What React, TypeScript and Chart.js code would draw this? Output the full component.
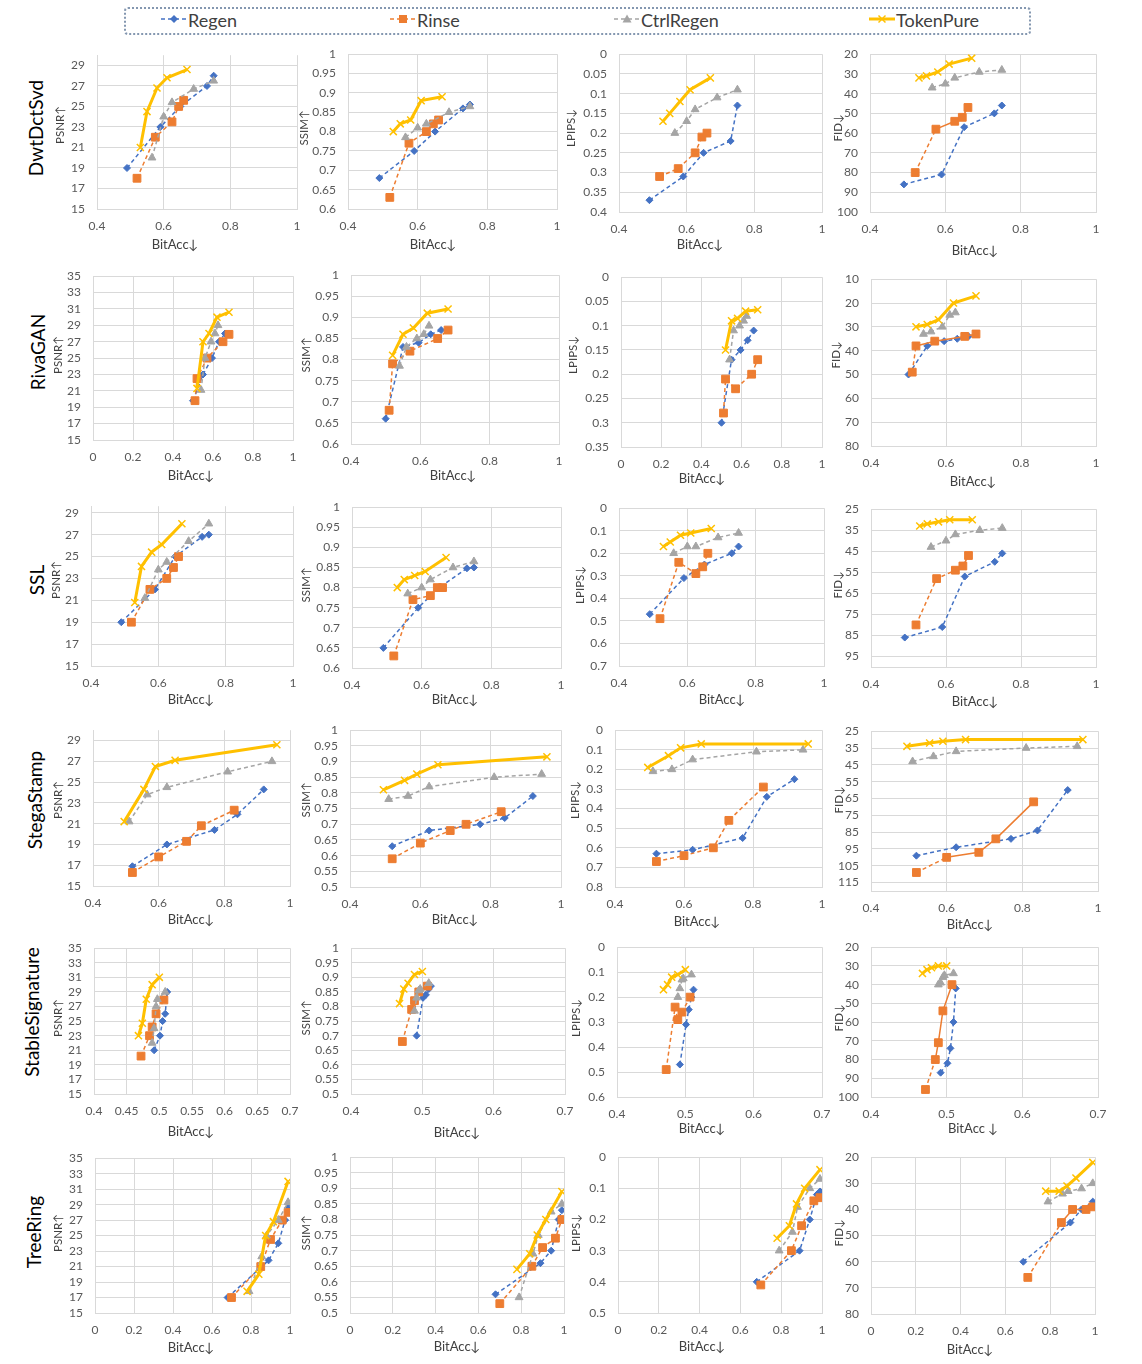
import React, { useEffect, useRef } from "react";
import { Chart, registerables } from "chart.js";
Chart.register(...registerables);

const FONT = "Lato, 'Liberation Sans', sans-serif";
const METHODS = ["Regen", "Rinse", "CtrlRegen", "TokenPure"];
const COLORS = ["#4472C4", "#ED7D31", "#A5A5A5", "#FFC000"];
const POINT_STYLES = ["rectRot", "rect", "triangle", "crossRot"];
const POINT_RADII = [3.5, 5.5, 4.5, 5];
const METRIC_TITLES = ["PSNR↑", "SSIM↑", "LPIPS↓", "FID↓"];
const ROW_LABELS = ["DwtDctSvd", "RivaGAN", "SSL", "StegaStamp", "StableSignature", "TreeRing"];

// ---- DwtDctSvd ----  rows of each array: Regen, Rinse, CtrlRegen, TokenPure
const dwtBitAcc = [
  [0.49, 0.59, 0.65, 0.73, 0.75],
  [0.52, 0.575, 0.625, 0.645, 0.66],
  [0.565, 0.6, 0.625, 0.69, 0.75],
  [0.53, 0.55, 0.58, 0.61, 0.67],
];
const dwtPSNR = [[19, 23, 25, 27, 28], [18, 22, 23.5, 25, 25.6], [20, 24, 25.4, 26.7, 27.5], [21, 24.5, 26.8, 27.8, 28.6]];
const dwtSSIM = [[0.68, 0.75, 0.8, 0.86, 0.87], [0.63, 0.77, 0.8, 0.82, 0.83], [0.785, 0.81, 0.82, 0.85, 0.865], [0.8, 0.82, 0.83, 0.88, 0.89]];
const dwtLPIPS = [[0.37, 0.31, 0.25, 0.22, 0.13], [0.31, 0.29, 0.25, 0.21, 0.2], [0.2, 0.17, 0.14, 0.11, 0.09], [0.17, 0.15, 0.12, 0.09, 0.06]];
const dwtFID = [[86, 81, 57, 50, 46], [80, 58, 54, 52, 47], [37, 35, 32, 29, 28], [32, 31, 29, 25, 22]];

// ---- RivaGAN ----
const rivaBitAcc = [
  [0.5, 0.55, 0.595, 0.63, 0.66],
  [0.51, 0.52, 0.57, 0.65, 0.68],
  [0.54, 0.56, 0.59, 0.61, 0.625],
  [0.52, 0.55, 0.58, 0.62, 0.68],
];
const rivaPSNR = [[19.8, 23, 25, 27, 28], [19.8, 22.5, 25, 27, 27.9], [21.1, 25, 27, 28, 29], [21.3, 27, 28, 30, 30.6]];
const rivaSSIM = [[0.66, 0.83, 0.84, 0.86, 0.87], [0.68, 0.79, 0.82, 0.85, 0.87], [0.785, 0.83, 0.85, 0.86, 0.88], [0.81, 0.86, 0.875, 0.91, 0.92]];
const rivaLPIPS = [[0.3, 0.17, 0.15, 0.13, 0.11], [0.28, 0.21, 0.23, 0.2, 0.17], [0.17, 0.11, 0.1, 0.09, 0.08], [0.15, 0.09, 0.085, 0.07, 0.067]];
const rivaFID = [[50, 38, 36, 35, 34], [49, 38, 36, 34, 33], [33, 32, 30, 25, 24], [30, 29, 27, 20, 17]];

// ---- SSL ----
const sslBitAcc = [
  [0.49, 0.59, 0.65, 0.73, 0.75],
  [0.52, 0.575, 0.625, 0.645, 0.66],
  [0.56, 0.6, 0.625, 0.69, 0.75],
  [0.53, 0.55, 0.58, 0.61, 0.67],
];
const sslPSNR = [[19, 22, 25, 26.8, 27], [19, 22, 23, 24, 25], [21.2, 23.8, 24.5, 26.4, 28], [20.8, 24.1, 25.4, 26.1, 28]];
const sslSSIM = [[0.65, 0.75, 0.8, 0.848, 0.85], [0.63, 0.77, 0.78, 0.8, 0.8], [0.785, 0.8, 0.82, 0.85, 0.865], [0.8, 0.82, 0.83, 0.84, 0.875]];
const sslLPIPS = [[0.47, 0.31, 0.25, 0.2, 0.17], [0.49, 0.24, 0.29, 0.26, 0.2], [0.2, 0.17, 0.17, 0.13, 0.11], [0.17, 0.15, 0.12, 0.11, 0.09]];
const sslFID = [[86, 81, 57, 50, 46], [80, 58, 54, 52, 47], [43, 40, 37, 35, 34], [33, 32, 31, 30, 30]];

// ---- StegaStamp ----
const stegaBitAcc = [
  [0.52, 0.625, 0.77, 0.84, 0.92],
  [0.52, 0.6, 0.685, 0.73, 0.83],
  [0.51, 0.565, 0.625, 0.81, 0.945],
  [0.495, 0.555, 0.59, 0.65, 0.96],
];
const stegaPSNR = [[16.9, 19, 20.4, 21.9, 24.3], [16.3, 17.8, 19.3, 20.8, 22.3], [21.2, 23.8, 24.5, 26, 27], [21.2, 24.3, 26.5, 27.1, 28.6]];
const stegaSSIM = [[0.63, 0.68, 0.7, 0.72, 0.79], [0.59, 0.64, 0.68, 0.7, 0.74], [0.78, 0.79, 0.82, 0.85, 0.86], [0.81, 0.84, 0.86, 0.89, 0.915]];
const stegaLPIPS = [[0.63, 0.61, 0.55, 0.34, 0.25], [0.67, 0.64, 0.6, 0.46, 0.29], [0.21, 0.2, 0.15, 0.11, 0.1], [0.19, 0.13, 0.09, 0.07, 0.07]];
const stegaFID = [[99, 94, 89, 84, 60], [109, 100, 97, 89, 67], [43, 40, 37, 35, 34], [34, 32, 31, 30, 30]];

// ---- StableSignature ----
const sigBitAcc = [
  [0.492, 0.501, 0.505, 0.509, 0.512],
  [0.472, 0.485, 0.489, 0.495, 0.507],
  [0.489, 0.492, 0.495, 0.497, 0.509],
  [0.468, 0.474, 0.48, 0.489, 0.5],
];
const sigPSNR = [[21, 23, 25, 26, 29], [20.2, 23, 24.2, 26, 27.9], [22, 24, 27, 28, 29], [23, 24.7, 28, 30, 31]];
const sigSSIM = [[0.7, 0.83, 0.84, 0.86, 0.87], [0.68, 0.79, 0.82, 0.85, 0.87], [0.785, 0.83, 0.855, 0.86, 0.88], [0.81, 0.86, 0.88, 0.91, 0.92]];
const sigLPIPS = [[0.47, 0.31, 0.25, 0.2, 0.17], [0.49, 0.24, 0.29, 0.26, 0.2], [0.2, 0.165, 0.13, 0.125, 0.11], [0.17, 0.15, 0.12, 0.11, 0.09]];
const sigFID = [[87, 82, 74, 60, 42], [96, 80, 71, 54, 40], [40, 39, 36, 35, 34], [34, 32, 31, 30, 30]];

// ---- TreeRing ----
const treeBitAcc = [
  [0.68, 0.89, 0.94, 0.975, 0.99],
  [0.7, 0.85, 0.9, 0.96, 0.99],
  [0.79, 0.855, 0.88, 0.94, 0.99],
  [0.78, 0.84, 0.875, 0.915, 0.99],
];
const treePSNR = [[17, 21.8, 24, 27, 28.6], [17, 21, 24.5, 27, 28], [17.8, 22.3, 25, 27, 29.3], [17.8, 20, 25, 26.8, 32]];
const treeSSIM = [[0.56, 0.66, 0.7, 0.8, 0.83], [0.53, 0.65, 0.71, 0.74, 0.8], [0.55, 0.69, 0.75, 0.825, 0.85], [0.64, 0.69, 0.75, 0.8, 0.89]];
const treeLPIPS = [[0.4, 0.3, 0.2, 0.12, 0.11], [0.41, 0.3, 0.22, 0.14, 0.13], [0.3, 0.24, 0.16, 0.1, 0.07], [0.26, 0.22, 0.15, 0.1, 0.04]];
const treeFID = [[60, 45, 40, 39, 37], [66, 45, 40, 40, 39], [37, 34, 33, 32, 30], [33, 33, 31, 28, 22]];

// ---- tick labels ----
const TICKS_PSNR_29 = [15, 17, 19, 21, 23, 25, 27, 29];
const TICKS_PSNR_35 = [15, 17, 19, 21, 23, 25, 27, 29, 31, 33, 35];
const TICKS_SSIM_06 = [0.6, 0.65, 0.7, 0.75, 0.8, 0.85, 0.9, 0.95, 1];
const TICKS_SSIM_05 = [0.5, 0.55, 0.6, 0.65, 0.7, 0.75, 0.8, 0.85, 0.9, 0.95, 1];
const TICKS_LPIPS_04 = [0, 0.05, 0.1, 0.15, 0.2, 0.25, 0.3, 0.35, 0.4];
const TICKS_LPIPS_035 = [0, 0.05, 0.1, 0.15, 0.2, 0.25, 0.3, 0.35];
const TICKS_LPIPS_07 = [0, 0.1, 0.2, 0.3, 0.4, 0.5, 0.6, 0.7];
const TICKS_LPIPS_08 = [0, 0.1, 0.2, 0.3, 0.4, 0.5, 0.6, 0.7, 0.8];
const TICKS_LPIPS_06 = [0, 0.1, 0.2, 0.3, 0.4, 0.5, 0.6];
const TICKS_LPIPS_05 = [0, 0.1, 0.2, 0.3, 0.4, 0.5];
const TICKS_FID_20_100 = [20, 30, 40, 50, 60, 70, 80, 90, 100];
const TICKS_FID_10_80 = [10, 20, 30, 40, 50, 60, 70, 80];
const TICKS_FID_25_95 = [25, 35, 45, 55, 65, 75, 85, 95];
const TICKS_FID_25_115 = [25, 35, 45, 55, 65, 75, 85, 95, 105, 115];
const TICKS_FID_20_80 = [20, 30, 40, 50, 60, 70, 80];
const TICKS_BIT_04_1 = [0.4, 0.6, 0.8, 1];
const TICKS_BIT_0_1 = [0, 0.2, 0.4, 0.6, 0.8, 1];
const TICKS_BIT_04_07_FINE = [0.4, 0.45, 0.5, 0.55, 0.6, 0.65, 0.7];
const TICKS_BIT_04_07 = [0.4, 0.5, 0.6, 0.7];

type PanelLayout = {
  l: number; r: number; t: number; b: number;
  xMin: number; xMax: number; xTicks: number[];
  yMin: number; yMax: number; yTicks: number[];
  yT: [number, number]; xT: [number, number];
  xTitle?: string; solidFrom?: number;
};

type RowDef = { label: string; labelPos: [number, number]; bit: number[][]; metrics: number[][][]; panels: PanelLayout[] };

const ROWS: RowDef[] = [
  {
    label: ROW_LABELS[0], labelPos: [36, 128], bit: dwtBitAcc, metrics: [dwtPSNR, dwtSSIM, dwtLPIPS, dwtFID],
    panels: [
      { l: 96.5, r: 296.8, t: 48.3, b: 209, xMin: 0.4, xMax: 1, xTicks: TICKS_BIT_04_1, yMin: 15, yMax: 30, yTicks: TICKS_PSNR_29, yT: [60, 125], xT: [175, 245] },
      { l: 347.8, r: 557.2, t: 47.3, b: 209.3, xMin: 0.4, xMax: 1, xTicks: TICKS_BIT_04_1, yMin: 0.6, yMax: 1, yTicks: TICKS_SSIM_06, yT: [304, 128], xT: [433, 245] },
      { l: 619.4, r: 821.5, t: 47.3, b: 211.7, xMin: 0.4, xMax: 1, xTicks: TICKS_BIT_04_1, yMin: 0, yMax: 0.4, yTicks: TICKS_LPIPS_04, yT: [571, 128], xT: [700, 245] },
      { l: 870.3, r: 1096.1, t: 46.7, b: 211.7, xMin: 0.4, xMax: 1, xTicks: TICKS_BIT_04_1, yMin: 20, yMax: 100, yTicks: TICKS_FID_20_100, yT: [838, 128], xT: [975, 251], solidFrom: 1 },
    ],
  },
  {
    label: ROW_LABELS[1], labelPos: [38, 352], bit: rivaBitAcc, metrics: [rivaPSNR, rivaSSIM, rivaLPIPS, rivaFID],
    panels: [
      { l: 92.9, r: 293.2, t: 268.7, b: 440.3, xMin: 0, xMax: 1, xTicks: TICKS_BIT_0_1, yMin: 15, yMax: 35, yTicks: TICKS_PSNR_35, yT: [58, 355], xT: [191, 476] },
      { l: 350.7, r: 559, t: 268, b: 443.7, xMin: 0.4, xMax: 1, xTicks: TICKS_BIT_04_1, yMin: 0.6, yMax: 1, yTicks: TICKS_SSIM_06, yT: [306, 355], xT: [453, 476] },
      { l: 620.9, r: 822.3, t: 269.7, b: 447, xMin: 0, xMax: 1, xTicks: TICKS_BIT_0_1, yMin: 0, yMax: 0.35, yTicks: TICKS_LPIPS_035, yT: [573, 355], xT: [702, 479] },
      { l: 871.4, r: 1096.1, t: 272, b: 446.3, xMin: 0.4, xMax: 1, xTicks: TICKS_BIT_04_1, yMin: 10, yMax: 80, yTicks: TICKS_FID_10_80, yT: [836, 355], xT: [973, 482], solidFrom: 1 },
    ],
  },
  {
    label: ROW_LABELS[2], labelPos: [37, 580], bit: sslBitAcc, metrics: [sslPSNR, sslSSIM, sslLPIPS, sslFID],
    panels: [
      { l: 91, r: 293.2, t: 499.4, b: 666.3, xMin: 0.4, xMax: 1, xTicks: TICKS_BIT_04_1, yMin: 15, yMax: 29.6, yTicks: TICKS_PSNR_29, yT: [56, 580], xT: [191, 700] },
      { l: 352.2, r: 560.8, t: 499.7, b: 668, xMin: 0.4, xMax: 1, xTicks: TICKS_BIT_04_1, yMin: 0.6, yMax: 1, yTicks: TICKS_SSIM_06, yT: [306, 585], xT: [455, 700] },
      { l: 619.4, r: 824.1, t: 501.3, b: 665.7, xMin: 0.4, xMax: 1, xTicks: TICKS_BIT_04_1, yMin: 0, yMax: 0.7, yTicks: TICKS_LPIPS_07, yT: [580, 585], xT: [722, 700] },
      { l: 871.4, r: 1096.1, t: 502, b: 666.7, xMin: 0.4, xMax: 1, xTicks: TICKS_BIT_04_1, yMin: 25, yMax: 100, yTicks: TICKS_FID_25_95, yT: [838, 585], xT: [975, 702] },
    ],
  },
  {
    label: ROW_LABELS[3], labelPos: [35, 800], bit: stegaBitAcc, metrics: [stegaPSNR, stegaSSIM, stegaLPIPS, stegaFID],
    panels: [
      { l: 92.9, r: 289.5, t: 723.2, b: 885.7, xMin: 0.4, xMax: 1, xTicks: TICKS_BIT_04_1, yMin: 15, yMax: 30, yTicks: TICKS_PSNR_29, yT: [58, 800], xT: [191, 920] },
      { l: 350.3, r: 560.8, t: 723.3, b: 886.7, xMin: 0.4, xMax: 1, xTicks: TICKS_BIT_04_1, yMin: 0.5, yMax: 1, yTicks: TICKS_SSIM_05, yT: [306, 800], xT: [455, 920] },
      { l: 614.7, r: 821.5, t: 722.7, b: 886.7, xMin: 0.4, xMax: 1, xTicks: TICKS_BIT_04_1, yMin: 0, yMax: 0.8, yTicks: TICKS_LPIPS_08, yT: [575, 800], xT: [697, 922] },
      { l: 871.4, r: 1098, t: 724, b: 890.5, xMin: 0.4, xMax: 1, xTicks: TICKS_BIT_04_1, yMin: 25, yMax: 120, yTicks: TICKS_FID_25_115, yT: [839, 800], xT: [970, 925], solidFrom: 1 },
    ],
  },
  {
    label: ROW_LABELS[4], labelPos: [32, 1012], bit: sigBitAcc, metrics: [sigPSNR, sigSSIM, sigLPIPS, sigFID],
    panels: [
      { l: 93.6, r: 290.2, t: 940.7, b: 1094, xMin: 0.4, xMax: 0.7, xTicks: TICKS_BIT_04_07_FINE, yMin: 15, yMax: 35, yTicks: TICKS_PSNR_35, yT: [58, 1018], xT: [191, 1132] },
      { l: 351.4, r: 564.5, t: 940.7, b: 1094.3, xMin: 0.4, xMax: 0.7, xTicks: TICKS_BIT_04_07, yMin: 0.5, yMax: 1, yTicks: TICKS_SSIM_05, yT: [306, 1018], xT: [457, 1133] },
      { l: 616.5, r: 822.3, t: 940, b: 1097.3, xMin: 0.4, xMax: 0.7, xTicks: TICKS_BIT_04_07, yMin: 0, yMax: 0.6, yTicks: TICKS_LPIPS_06, yT: [576, 1018], xT: [702, 1129] },
      { l: 871.4, r: 1098, t: 940, b: 1097.3, xMin: 0.4, xMax: 0.7, xTicks: TICKS_BIT_04_07, yMin: 20, yMax: 100, yTicks: TICKS_FID_20_100, yT: [839, 1018], xT: [973, 1129], xTitle: "BitAcc ↓", solidFrom: 1 },
    ],
  },
  {
    label: ROW_LABELS[5], labelPos: [34, 1232], bit: treeBitAcc, metrics: [treePSNR, treeSSIM, treeLPIPS, treeFID],
    panels: [
      { l: 94.7, r: 290.2, t: 1150.7, b: 1312.7, xMin: 0, xMax: 1, xTicks: TICKS_BIT_0_1, yMin: 15, yMax: 35, yTicks: TICKS_PSNR_35, yT: [58, 1233], xT: [191, 1348] },
      { l: 349.6, r: 563.7, t: 1150, b: 1312.7, xMin: 0, xMax: 1, xTicks: TICKS_BIT_0_1, yMin: 0.5, yMax: 1, yTicks: TICKS_SSIM_05, yT: [306, 1233], xT: [457, 1347] },
      { l: 617.6, r: 821.5, t: 1150, b: 1313.3, xMin: 0, xMax: 1, xTicks: TICKS_BIT_0_1, yMin: 0, yMax: 0.5, yTicks: TICKS_LPIPS_05, yT: [576, 1233], xT: [702, 1347] },
      { l: 871.4, r: 1095.4, t: 1150, b: 1314, xMin: 0, xMax: 1, xTicks: TICKS_BIT_0_1, yMin: 20, yMax: 80, yTicks: TICKS_FID_20_80, yT: [839, 1233], xT: [970, 1350], solidFrom: 1 },
    ],
  },
];

const fmt = (v: number) => String(parseFloat(Number(v).toFixed(3)));
const DASH = [4, 3];

function Panel({ p, bit, ys, metricIdx }: { p: PanelLayout; bit: number[][]; ys: number[][]; metricIdx: number }) {
  const ref = useRef<HTMLCanvasElement>(null);
  const L = 72, R = 22, T = 12, B = 58;
  const pl = Math.round(p.l), pt = Math.round(p.t);
  const pw = Math.round(p.r) - pl;
  const ph = Math.round(p.b) - pt;
  const cl = pl - L, ct = pt - T;
  const W = L + pw + R, H = T + ph + B;
  const reverse = metricIdx >= 2;

  useEffect(() => {
    const titles = {
      id: "panelTitles",
      afterDraw(chart: any) {
        const ctx = chart.ctx;
        ctx.save();
        ctx.fillStyle = "#404040";
        ctx.textAlign = "center";
        ctx.textBaseline = "middle";
        ctx.font = `13px ${FONT}`;
        ctx.fillText(p.xTitle || "BitAcc↓", p.xT[0] - cl, p.xT[1] - ct);
        ctx.translate(p.yT[0] - cl, p.yT[1] - ct);
        ctx.rotate(-Math.PI / 2);
        ctx.font = `11.5px ${FONT}`;
        ctx.fillText(METRIC_TITLES[metricIdx], 0, 0);
        ctx.restore();
      },
    };
    const datasets = METHODS.map((name, i) => ({
      label: name,
      data: bit[i].map((x, j) => ({ x, y: ys[i][j] })),
      borderColor: COLORS[i],
      backgroundColor: COLORS[i],
      borderWidth: i === 3 ? 3 : 1.5,
      borderDash: i === 3 ? [] : DASH,
      segment:
        i === 1 && p.solidFrom !== undefined && metricIdx === 3
          ? { borderDash: (c: any) => (c.p0DataIndex >= (p.solidFrom as number) ? [] : DASH) }
          : undefined,
      pointStyle: POINT_STYLES[i],
      pointRadius: POINT_RADII[i],
      pointBorderWidth: i === 3 ? 1.5 : 1,
      showLine: true,
      fill: false,
      tension: 0,
      order: 3 - i,
    }));
    const tickFont = { family: FONT, size: 12 };
    const chart = new Chart(ref.current as HTMLCanvasElement, {
      type: "scatter",
      data: { datasets: datasets as any },
      options: {
        animation: false,
        responsive: false,
        maintainAspectRatio: false,
        devicePixelRatio: 1,
        layout: { padding: { left: 0, top: T, right: R, bottom: 0 } },
        plugins: { legend: { display: false }, tooltip: { enabled: false } },
        scales: {
          x: {
            type: "linear",
            min: p.xMin,
            max: p.xMax,
            afterBuildTicks: (s: any) => { s.ticks = p.xTicks.map((v) => ({ value: v })); },
            afterFit: (s: any) => { s.height = B; },
            grid: { color: "#d9d9d9", drawTicks: false, lineWidth: 1 },
            border: { display: true, color: "#d9d9d9" },
            ticks: { padding: 10, color: "#595959", font: tickFont, maxRotation: 0, autoSkip: false, callback: (v: any) => fmt(v) },
          },
          y: {
            type: "linear",
            min: p.yMin,
            max: p.yMax,
            reverse,
            afterBuildTicks: (s: any) => { s.ticks = p.yTicks.map((v) => ({ value: v })); },
            afterFit: (s: any) => { s.width = L; },
            grid: { color: "#d9d9d9", drawTicks: false, lineWidth: 1 },
            border: { display: true, color: "#d9d9d9" },
            ticks: { padding: 12, color: "#595959", font: tickFont, autoSkip: false, callback: (v: any) => fmt(v) },
          },
        },
      } as any,
      plugins: [titles],
    });
    return () => chart.destroy();
  }, []);

  return (
    <canvas
      ref={ref}
      width={W}
      height={H}
      style={{ position: "absolute", left: cl, top: ct, width: W, height: H }}
    />
  );
}

function LegendIcon({ i }: { i: number }) {
  const c = COLORS[i];
  const cx = 13, cy = 8;
  let marker: React.ReactNode = null;
  if (i === 0) marker = <polygon points={`${cx - 4},${cy} ${cx},${cy - 4} ${cx + 4},${cy} ${cx},${cy + 4}`} fill={c} />;
  if (i === 1) marker = <rect x={cx - 4} y={cy - 4} width={8} height={8} fill={c} />;
  if (i === 2) marker = <polygon points={`${cx - 4.5},${cy + 3.5} ${cx},${cy - 4.5} ${cx + 4.5},${cy + 3.5}`} fill={c} />;
  if (i === 3)
    marker = (
      <g stroke={c} strokeWidth={1.5}>
        <line x1={cx - 3.5} y1={cy - 3.5} x2={cx + 3.5} y2={cy + 3.5} />
        <line x1={cx - 3.5} y1={cy + 3.5} x2={cx + 3.5} y2={cy - 3.5} />
      </g>
    );
  return (
    <svg width={26} height={16} style={{ position: "absolute", left: 0, top: 5 }}>
      <line x1={0} y1={cy} x2={26} y2={cy} stroke={c} strokeWidth={i === 3 ? 3 : 1.5} strokeDasharray={i === 3 ? undefined : "4 3"} />
      {marker}
    </svg>
  );
}

const LEGEND_X = [161, 390, 614, 869];

export default function App() {
  return (
    <div style={{ position: "absolute", left: 0, top: 0, width: 1142, height: 1364, overflow: "hidden", background: "#fff", fontFamily: FONT }}>
      <div
        style={{
          position: "absolute", left: 124, top: 7, width: 903, height: 24,
          border: "2px dotted #8497B0", borderRadius: 4,
        }}
      />
      {METHODS.map((m, i) => (
        <div key={m} style={{ position: "absolute", left: LEGEND_X[i], top: 6, height: 28, width: 140 }}>
          <LegendIcon i={i} />
          <span style={{ position: "absolute", left: 27, top: 3, fontSize: 18, lineHeight: "22px", color: "#404040", whiteSpace: "nowrap" }}>{m}</span>
        </div>
      ))}
      {ROWS.map((row) => (
        <div
          key={row.label}
          style={{
            position: "absolute", left: row.labelPos[0] - 100, top: row.labelPos[1] - 13, width: 200, height: 26,
            textAlign: "center", fontSize: 19, lineHeight: "26px", color: "#000", transform: "rotate(-90deg)", whiteSpace: "nowrap",
          }}
        >
          {row.label}
        </div>
      ))}
      {ROWS.map((row, ri) =>
        row.panels.map((p, pi) => <Panel key={`${ri}-${pi}`} p={p} bit={row.bit} ys={row.metrics[pi]} metricIdx={pi} />)
      )}
    </div>
  );
}
